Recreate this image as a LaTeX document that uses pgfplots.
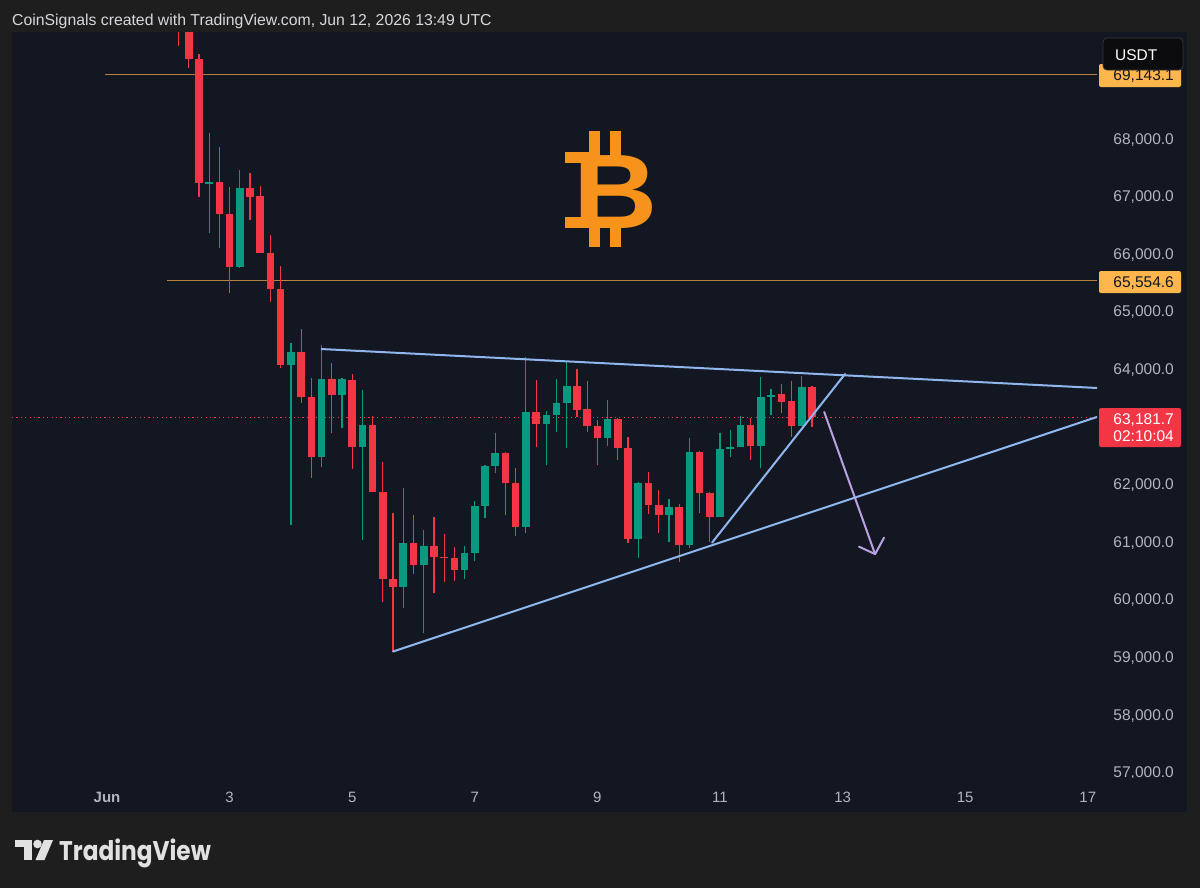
\documentclass[border=0pt]{standalone}
\usepackage{pgfplots}
\pgfplotsset{compat=1.18}
\usepackage{pgfplotstable}
\usepackage{graphicx}
\usepackage{fontspec}
\setmainfont{Liberation Sans}
\newfontfamily\tvfont{Poppins}
\definecolor{outer}{RGB}{30,30,30}
\definecolor{panel}{RGB}{19,23,34}
\definecolor{upc}{RGB}{8,153,129}
\definecolor{dnc}{RGB}{242,54,69}
\definecolor{hlc}{RGB}{180,130,60}
\definecolor{tl}{RGB}{144,182,240}
\definecolor{arr}{RGB}{184,162,228}
\definecolor{lbl}{RGB}{178,181,190}
\definecolor{hdr}{RGB}{214,216,222}
\definecolor{obox}{RGB}{255,183,77}
\definecolor{btc}{RGB}{247,147,26}

\pgfplotstableread{
x o h l c
2.6667 67241 68107 66374 67258
3.1667 65785 67466 65768 67154
4.0 64087 64468 61314 64312
4.5 62492 64433 62319 63844
4.8333 63567 63861 62995 63844
5.1667 62666 63653 61054 63047
5.8333 60239 61955 59875 61002
6.1667 60621 61227 59442 60950
6.8333 60534 60950 60378 60829
7.0 60829 61730 60690 61643
7.1667 61643 62354 61435 62336
7.3333 62336 62908 62215 62562
7.8333 61279 64225 61175 63272
8.1667 63064 63289 62354 63220
8.3333 63220 63844 62926 63428
8.5 63428 64139 62648 63723
9.1667 62822 63480 62683 63151
9.6667 61071 62059 60742 62042
10.1667 61487 61764 61019 61626
10.5 60967 62822 60915 62579
11.0 61452 62908 61452 62631
11.1667 62631 62960 62492 62666
11.3333 62666 63203 62666 63047
11.6667 62683 63879 62302 63532
11.8333 63532 63671 63220 63567
12.3333 63030 63896 63030 63705
}\uptab

\pgfplotstableread{
x o h l c
2.1667 70300 70500 69632 69900
2.3333 69900 70000 69251 69407
2.5 69407 69494 66998 67241
2.8333 67258 67865 66114 66703
3.0 66703 67171 65334 65785
3.3333 67154 67414 66600 66998
3.5 67015 67189 66028 66028
3.6667 66028 66340 65178 65404
3.8333 65404 65802 64035 64087
4.1667 64312 64711 63428 63532
4.3333 63532 63861 62128 62492
4.6667 63844 64121 62908 63567
5.0 63827 63931 62284 62666
5.3333 63047 63203 61886 61886
5.5 61886 62406 59979 60378
5.6667 60378 61522 59113 60239
6.0 61002 61487 60465 60621
6.3333 60950 61452 60135 60759
6.5 60759 61158 60326 60742
6.6667 60742 60933 60343 60534
7.5 62562 62579 61487 62042
7.6667 62042 62302 61123 61279
8.0 63272 63827 62666 63064
8.6667 63723 64017 63185 63307
8.8333 63324 63809 62926 63030
9.0 63030 63133 62354 62822
9.3333 63151 63168 62440 62648
9.5 62648 62839 61002 61071
9.8333 62042 62232 61504 61660
10.0 61660 61920 61175 61487
10.3333 61626 61678 60673 60967
10.6667 62579 62596 61522 61868
10.8333 61868 61886 61019 61452
11.5 63047 63168 62440 62683
12.0 63584 63757 63255 63445
12.1667 63463 63809 62839 63030
12.5 63705 63723 63012 63181.7
}\dntab

\begin{document}
\begin{tikzpicture}
\path[use as bounding box] (0,0) rectangle (1200bp,-888bp);
\fill[outer] (0,0) rectangle (1200bp,-888bp);
\fill[panel] (12bp,-32bp) rectangle (1187bp,-812bp);
\node[anchor=base west, inner sep=0, text=hdr, font=\fontsize{15.8bp}{18bp}\selectfont] at (12bp,-25.5bp) {CoinSignals created with TradingView.com, Jun 12, 2026 13:49 UTC};

% Bitcoin sign
\fill[btc] (589bp,-131bp) rectangle (600bp,-156bp);
\fill[btc] (610bp,-131bp) rectangle (621bp,-156bp);
\fill[btc] (589bp,-224bp) rectangle (600bp,-247bp);
\fill[btc] (610bp,-224bp) rectangle (621bp,-247bp);
\fill[btc] (565bp,-152bp) rectangle (590bp,-163bp);
\fill[btc] (565bp,-217bp) rectangle (590bp,-228bp);
\node[anchor=base, inner sep=0, text=btc, font=\fontsize{106bp}{106bp}\selectfont\bfseries] at (615.6bp,-228bp) {\scalebox{1.1}[1]{B}};

\begin{axis}[
  at={(12bp,-778bp)}, anchor=south west,
  scale only axis, width=1085bp, height=746bp,
  xmin=-0.5498, xmax=17.150, ymin=56917, ymax=69868,
  axis line style={draw=none}, major tick length=0,
  xtick={1,3,5,7,9,11,13,15,17},
  xticklabels={\textbf{Jun},3,5,7,9,11,13,15,17},
  xticklabel style={inner sep=0, anchor=north, yshift=-14bp, text=lbl, font=\fontsize{15bp}{16bp}\selectfont},
  ytick={57000,58000,59000,60000,61000,62000,64000,65000,66000,67000,68000},
  scaled y ticks=false,
  yticklabel pos=right,
  yticklabel={\pgfmathprintnumber[fixed,fixed zerofill,precision=1,1000 sep={,},assume math mode=true]{\tick}},
  yticklabel style={inner sep=0, anchor=east, xshift=77bp, text=lbl, font=\fontsize{15.5bp}{16bp}\selectfont},
  clip=true,
]
% horizontal levels
\addplot[draw=hlc, line width=1.3bp, forget plot] coordinates {(0.967,69125) (17.15,69125)};
\addplot[draw=hlc, line width=1.3bp, forget plot] coordinates {(1.98,65554.6) (17.15,65554.6)};
% current price dotted line
\addplot[draw=dnc, line width=0.9bp, dash pattern=on 1.2bp off 3.2bp, forget plot] coordinates {(-0.55,63181.7) (17.15,63181.7)};
% wicks
\addplot[draw=none, mark=none, forget plot, error bars/.cd, y dir=both, y explicit, error mark=none,
  error bar style={draw=upc, line width=1.2bp, solid}]
  table[x=x, y expr={(\thisrow{h}+\thisrow{l})/2}, y error expr={(\thisrow{h}-\thisrow{l})/2}] {\uptab};
\addplot[draw=none, mark=none, forget plot, error bars/.cd, y dir=both, y explicit, error mark=none,
  error bar style={draw=dnc, line width=1.2bp, solid}]
  table[x=x, y expr={(\thisrow{h}+\thisrow{l})/2}, y error expr={(\thisrow{h}-\thisrow{l})/2}] {\dntab};
% bodies
\addplot[draw=none, mark=none, forget plot, error bars/.cd, y dir=both, y explicit, error mark=none,
  error bar style={draw=upc, line width=7.6bp, solid, line cap=butt}]
  table[x=x, y expr={(\thisrow{o}+\thisrow{c})/2}, y error expr={max(abs(\thisrow{c}-\thisrow{o})/2,9)}] {\uptab};
\addplot[draw=none, mark=none, forget plot, error bars/.cd, y dir=both, y explicit, error mark=none,
  error bar style={draw=dnc, line width=7.6bp, solid, line cap=butt}]
  table[x=x, y expr={(\thisrow{o}+\thisrow{c})/2}, y error expr={max(abs(\thisrow{c}-\thisrow{o})/2,9)}] {\dntab};
% trend lines
\addplot[draw=tl, line width=2bp, line cap=round, forget plot] coordinates {(4.5,64364) (17.15,63688)};
\addplot[draw=tl, line width=2bp, line cap=round, forget plot] coordinates {(5.667,59113) (17.15,63185)};
\addplot[draw=tl, line width=2bp, line cap=round, forget plot] coordinates {(10.87,61002) (13.04,63931)};
% projected move arrow
\addplot[draw=arr, line width=2bp, line cap=round, forget plot] coordinates {(12.70,63272) (13.53,60804)};
\addplot[draw=arr, line width=2bp, line cap=round, line join=round, forget plot] coordinates {(13.268,60933) (13.53,60804) (13.676,61089)};
\end{axis}

% cover the time-scale strip under the price scale
\fill[panel] (1100bp,-778bp) rectangle (1187bp,-812bp);

% price labels
\fill[obox, rounded corners=2bp] (1099bp,-64bp) rectangle (1181bp,-87bp);
\node[anchor=base east, inner sep=0, text=panel, font=\fontsize{15.5bp}{16bp}\selectfont] at (1174bp,-80bp) {69,143.1};
\fill[obox, rounded corners=2bp] (1099bp,-271bp) rectangle (1181bp,-293bp);
\node[anchor=base east, inner sep=0, text=panel, font=\fontsize{15.5bp}{16bp}\selectfont] at (1174bp,-287.5bp) {65,554.6};
\fill[dnc, rounded corners=2bp] (1099bp,-408bp) rectangle (1181bp,-447bp);
\node[anchor=base east, inner sep=0, text=white, font=\fontsize{15.5bp}{16bp}\selectfont] at (1174bp,-424bp) {63,181.7};
\node[anchor=base east, inner sep=0, text=white, font=\fontsize{15.5bp}{16bp}\selectfont] at (1174bp,-441.5bp) {02:10:04};

% currency box
\filldraw[fill={rgb,255:red,12;green,12;blue,14}, draw={rgb,255:red,55;green,55;blue,60}, line width=0.8bp, rounded corners=4bp] (1103bp,-38bp) rectangle (1183bp,-70bp);
\node[anchor=base west, inner sep=0, text=white, font=\fontsize{15.5bp}{16bp}\selectfont] at (1115bp,-60bp) {USDT};

% TradingView logo
\definecolor{logo}{RGB}{225,225,225}
\fill[logo] (15bp,-840bp) rectangle (32bp,-847bp);
\fill[logo] (24bp,-840bp) rectangle (32bp,-860bp);
\fill[logo] (37.5bp,-844bp) circle (4.3bp);
\fill[logo] (44bp,-840bp) -- (53bp,-840bp) -- (44.5bp,-860bp) -- (35.5bp,-860bp) -- cycle;
\node[anchor=base west, inner sep=0, text=logo, font=\tvfont\bfseries\fontsize{27bp}{28bp}\selectfont] at (59bp,-860bp) {\scalebox{0.86}[1]{TradingView}};
\end{tikzpicture}
\end{document}
